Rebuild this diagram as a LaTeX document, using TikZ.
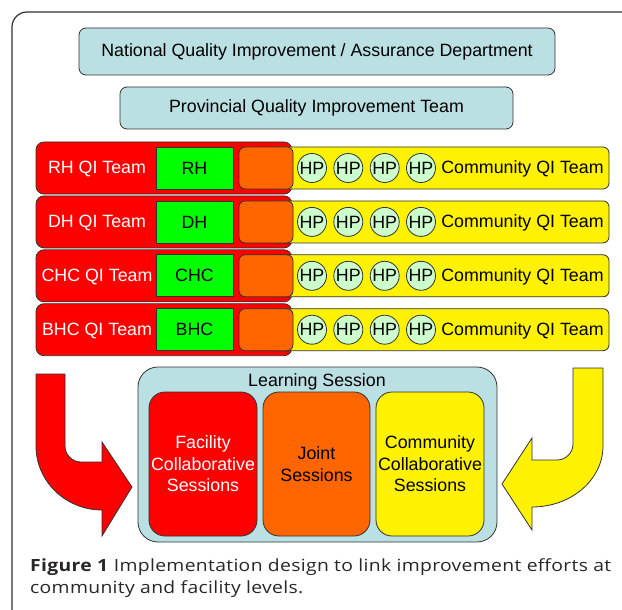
\documentclass[tikz,border=0pt]{standalone}
\usepackage{fontspec}
\setmainfont{Liberation Sans}
\newfontfamily\capfont[FakeStretch=1.15, LetterSpace=2]{Open Sans}
\definecolor{teal1}{RGB}{186,224,227}
\definecolor{hpfill}{RGB}{204,255,204}
\definecolor{orng}{RGB}{255,102,0}
\definecolor{edge}{RGB}{50,50,50}
\definecolor{captext}{RGB}{40,38,38}
\newcommand{\diagfont}{\fontsize{17.8}{21.5}\selectfont}
\tikzset{
  box/.style={draw=edge, line width=0.8pt, inner sep=0pt, outer sep=0pt, font=\diagfont},
  tealbox/.style={box, fill=teal1, rounded corners=7pt},
  redrow/.style={box, fill=red, rounded corners=8pt, minimum width=256, minimum height=52},
  yelrow/.style={box, fill=yellow, rounded corners=6pt, minimum width=339, minimum height=42},
  grnbox/.style={box, fill=green, minimum width=77, minimum height=42},
  orgbox/.style={box, fill=orng, rounded corners=6pt, minimum width=54, minimum height=42},
  hp/.style={box, circle, fill=hpfill, minimum size=29},
  lbl/.style={inner sep=0pt, font=\diagfont},
  sess/.style={box, rounded corners=16pt, minimum width=108, minimum height=144, align=center},
  bigarrow/.style={draw=edge, line width=0.8pt},
  caption/.style={anchor=base west, inner sep=0pt, text=captext, font=\capfont\fontsize{16.8}{22}\selectfont},
}
\begin{document}
\begin{tikzpicture}[x=1pt, y=-1pt]
\useasboundingbox (0,0) rectangle (622,610);
\clip (0,0) rectangle (622,610);
\fill[white] (0,0) rectangle (622,610);
% surrounding frame
\draw[edge, line width=1.2pt, rounded corners=15pt] (12,624) -- (12,12) -- (640,12);

% hierarchy
\node[tealbox, minimum width=476, minimum height=47] (nat) at (317,51.5) {National Quality Improvement / Assurance Department};
\node[tealbox, minimum width=393, minimum height=42] (prov) at (316.5,108) {Provincial Quality Improvement Team};

% team rows
\foreach \name/\lab/\fac [count=\i from 0] in {rh/RH QI Team/RH, dh/DH QI Team/DH, chc/CHC QI Team/CHC, bhc/BHC QI Team/BHC} {
  \pgfmathsetmacro{\cy}{168+53.9*\i}
  \node[redrow] (\name-team) at (164,\cy) {};
  \node[yelrow] (\name-comm) at (439.5,\cy) {};
  \node[grnbox] (\name-fac) at (194.5,\cy) {\fac};
  \node[orgbox] (\name-joint) at (266,\cy) {};
  \node[lbl, text=white] (\name-lab) at (97,\cy+1) {\lab};
  \foreach \hx [count=\j] in {312,348.3,384.7,421} {
    \node[hp] (\name-hp\j) at (\hx,\cy) {HP};
  }
  \node[lbl] (\name-clab) at (522.5,\cy+1) {Community QI Team};
}

% learning session
\node[box, fill=teal1, rounded corners=20pt, minimum width=359, minimum height=175] (learn) at (317.5,454.5) {};
\node[lbl] (learn-lab) at (317,382) {Learning Session};
\node[sess, fill=red, text=white] (facs) at (203,464) {Facility\\Collaborative\\Sessions};
\node[sess, fill=orng, minimum width=107] (joints) at (316.5,464) {Joint\\Sessions};
\node[sess, fill=yellow] (comms) at (430,464) {Community\\Collaborative\\Sessions};

% bent arrows feeding the learning session
\draw[bigarrow, fill=red] (36,374) -- (65,374) -- (65,446)
  .. controls (65,454.8) and (72.2,462) .. (81,462)
  -- (102,462) -- (102,442) -- (132,487) -- (102,536) -- (102,510)
  .. controls (65.6,510) and (36,481.3) .. (36,446) -- cycle;
\draw[bigarrow, fill=yellow] (603,368) -- (573,368) -- (573,444)
  .. controls (573,452.8) and (565.8,460) .. (557,460)
  -- (532,460) -- (532,438) -- (502,484) -- (532,530) -- (532,507)
  .. controls (571.2,507) and (603,479.7) .. (603,446) -- cycle;

% caption
\node[caption] (cap1) at (30,571) {\textbf{Figure 1} Implementation design to link improvement efforts at};
\node[caption] (cap2) at (30,593.5) {community and facility levels.};
\end{tikzpicture}
\end{document}
